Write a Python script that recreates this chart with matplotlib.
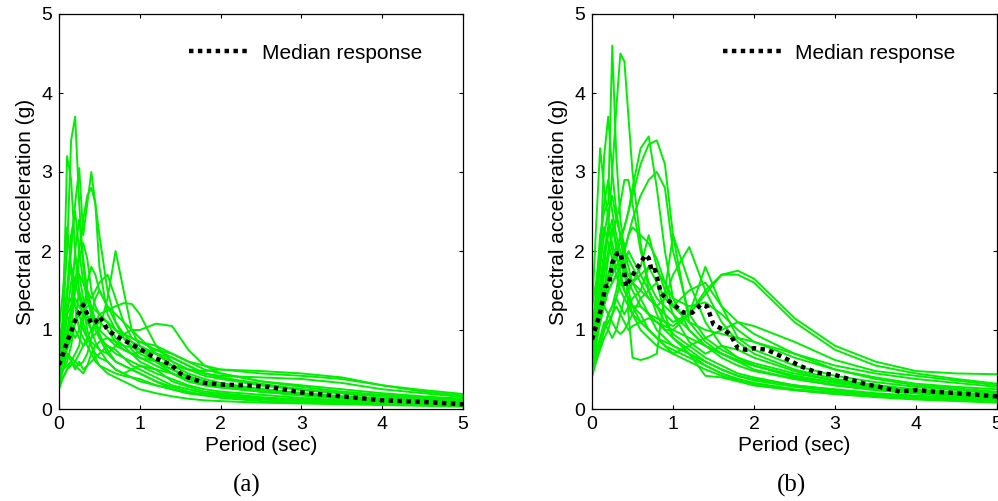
import numpy as np
import matplotlib
matplotlib.use("Agg")
import matplotlib.pyplot as plt

plt.rcParams['font.family'] = ['Liberation Sans', 'DejaVu Sans']

# periods (sec) at which the spectra were read
periods = [0, 0.05, 0.1, 0.15, 0.2, 0.25, 0.3, 0.35, 0.4, 0.45, 0.5, 0.6, 0.7,
           0.8, 0.9, 1.0, 1.2, 1.4, 1.6, 1.8, 2.0, 2.5, 3.0, 3.5, 4.0, 4.5, 5.0]

# panel (a) record spectra, Sa (g)
spectra_a = [
    [0.6, 1.2, 2.0, 3.4, 3.7, 2.6, 1.8, 1.4, 1.2, 1.0, 0.9, 0.8, 0.7, 0.65, 0.6, 0.55, 0.45, 0.38, 0.3, 0.25, 0.22, 0.18, 0.14, 0.11, 0.09, 0.07, 0.06],
    [0.5, 1.1, 3.2, 2.9, 2.0, 1.5, 1.1, 0.9, 0.8, 0.7, 0.65, 0.6, 0.5, 0.45, 0.4, 0.35, 0.3, 0.25, 0.2, 0.18, 0.16, 0.13, 0.1, 0.08, 0.07, 0.06, 0.05],
    [0.7, 1.0, 1.4, 2.0, 2.6, 3.05, 2.2, 2.6, 3.0, 2.6, 1.8, 1.2, 1.0, 0.9, 0.8, 0.7, 0.6, 0.5, 0.42, 0.35, 0.3, 0.25, 0.2, 0.16, 0.13, 0.11, 0.09],
    [0.4, 0.6, 0.9, 1.2, 1.6, 2.0, 2.4, 2.7, 2.8, 2.6, 2.2, 1.5, 1.1, 0.9, 0.75, 0.65, 0.55, 0.45, 0.38, 0.32, 0.28, 0.22, 0.18, 0.14, 0.12, 0.1, 0.08],
    [0.5, 0.7, 0.9, 1.1, 1.0, 0.9, 0.8, 0.85, 0.9, 0.95, 1.0, 1.4, 2.0, 1.5, 1.0, 0.8, 0.6, 0.5, 0.4, 0.35, 0.3, 0.22, 0.18, 0.15, 0.12, 0.1, 0.08],
    [0.8, 1.0, 1.3, 1.4, 1.3, 1.2, 1.25, 1.3, 1.3, 1.25, 1.2, 1.25, 1.3, 1.34, 1.33, 1.2, 0.8, 0.6, 0.5, 0.42, 0.38, 0.3, 0.25, 0.2, 0.16, 0.13, 0.1],
    [0.3, 0.5, 0.7, 0.6, 0.5, 0.6, 0.5, 0.55, 0.7, 0.8, 0.75, 0.7, 0.8, 0.95, 1.0, 1.0, 1.08, 1.05, 0.75, 0.55, 0.45, 0.35, 0.28, 0.22, 0.18, 0.15, 0.12],
    [1.0, 1.5, 2.3, 1.8, 1.3, 1.0, 0.9, 0.8, 0.7, 0.6, 0.55, 0.5, 0.45, 0.42, 0.4, 0.38, 0.3, 0.25, 0.2, 0.17, 0.15, 0.12, 0.1, 0.08, 0.06, 0.05, 0.04],
    [0.6, 0.9, 1.5, 2.2, 2.5, 2.0, 1.6, 1.4, 1.2, 1.1, 1.0, 0.9, 0.8, 0.75, 0.7, 0.65, 0.6, 0.55, 0.5, 0.48, 0.5, 0.48, 0.45, 0.4, 0.3, 0.22, 0.17],
    [0.45, 0.6, 0.8, 1.0, 1.5, 1.9, 2.1, 1.9, 1.5, 1.3, 1.2, 1.1, 1.0, 0.9, 0.85, 0.8, 0.7, 0.6, 0.5, 0.45, 0.42, 0.4, 0.38, 0.33, 0.25, 0.2, 0.15],
    [0.35, 0.5, 0.55, 0.6, 0.7, 0.8, 1.2, 1.6, 1.8, 1.7, 1.5, 1.3, 1.2, 1.1, 1.0, 0.9, 0.7, 0.55, 0.45, 0.38, 0.33, 0.25, 0.2, 0.16, 0.13, 0.1, 0.08],
    [0.25, 0.4, 0.5, 0.6, 0.55, 0.5, 0.45, 0.55, 0.6, 0.65, 0.7, 0.8, 0.75, 0.65, 0.55, 0.5, 0.4, 0.3, 0.25, 0.2, 0.18, 0.14, 0.11, 0.09, 0.07, 0.06, 0.05],
    [0.6, 0.8, 1.0, 1.2, 1.5, 1.7, 1.6, 1.5, 1.4, 1.5, 1.6, 1.7, 1.4, 1.1, 0.9, 0.85, 0.75, 0.65, 0.55, 0.45, 0.4, 0.32, 0.25, 0.2, 0.16, 0.13, 0.11],
    [0.5, 0.6, 0.7, 0.65, 0.6, 0.55, 0.6, 0.7, 0.9, 1.1, 1.2, 1.1, 0.9, 0.8, 0.7, 0.6, 0.5, 0.45, 0.35, 0.3, 0.28, 0.22, 0.17, 0.13, 0.1, 0.08, 0.07],
    [0.4, 0.7, 1.2, 1.6, 1.9, 1.7, 1.4, 1.2, 1.0, 0.85, 0.75, 0.6, 0.5, 0.45, 0.5, 0.55, 0.5, 0.35, 0.28, 0.22, 0.2, 0.15, 0.12, 0.1, 0.08, 0.06, 0.05],
    [0.7, 1.0, 1.2, 1.3, 1.4, 1.3, 1.2, 1.1, 1.0, 1.05, 1.1, 1.0, 0.85, 0.75, 0.7, 0.72, 0.75, 0.7, 0.6, 0.5, 0.45, 0.35, 0.3, 0.25, 0.2, 0.16, 0.13],
    [0.5, 0.7, 0.9, 1.3, 2.0, 2.4, 1.9, 1.5, 1.3, 1.1, 0.95, 0.75, 0.6, 0.55, 0.5, 0.45, 0.35, 0.25, 0.2, 0.18, 0.16, 0.13, 0.1, 0.08, 0.07, 0.06, 0.05],
    [0.3, 0.4, 0.5, 0.55, 0.6, 0.7, 0.8, 0.9, 1.0, 1.1, 1.15, 1.1, 1.0, 0.95, 0.9, 0.85, 0.8, 0.7, 0.6, 0.55, 0.5, 0.45, 0.42, 0.38, 0.3, 0.24, 0.19],
    [0.55, 0.8, 1.2, 1.0, 0.9, 1.0, 1.2, 1.4, 1.3, 1.1, 0.9, 0.7, 0.6, 0.55, 0.5, 0.45, 0.35, 0.28, 0.22, 0.18, 0.14, 0.1, 0.08, 0.07, 0.06, 0.05, 0.04],
    [0.9, 1.1, 1.5, 1.8, 1.6, 1.4, 1.3, 1.1, 1.2, 1.4, 1.5, 1.3, 1.1, 0.95, 0.85, 0.75, 0.6, 0.45, 0.35, 0.3, 0.27, 0.22, 0.18, 0.14, 0.11, 0.09, 0.07],
    [0.45, 0.6, 0.75, 0.9, 1.1, 1.2, 1.0, 0.9, 0.85, 0.8, 0.85, 0.9, 0.85, 0.8, 0.78, 0.75, 0.7, 0.65, 0.55, 0.45, 0.4, 0.3, 0.24, 0.2, 0.16, 0.13, 0.1],
    [0.35, 0.5, 0.6, 0.8, 1.1, 1.5, 1.3, 1.0, 0.8, 0.65, 0.55, 0.45, 0.4, 0.35, 0.3, 0.25, 0.2, 0.16, 0.13, 0.11, 0.1, 0.08, 0.07, 0.06, 0.05, 0.04, 0.03],
]

# panel (b) record spectra, Sa (g)
spectra_b = [
    [0.9, 1.5, 2.2, 2.5, 2.6, 4.6, 3.2, 2.4, 2.0, 1.8, 1.6, 1.4, 1.2, 1.0, 0.9, 0.8, 0.7, 0.6, 0.5, 0.42, 0.38, 0.3, 0.25, 0.2, 0.17, 0.14, 0.12],
    [0.7, 1.0, 1.4, 1.8, 2.3, 3.0, 3.8, 4.5, 4.4, 3.7, 3.0, 2.1, 1.5, 1.2, 1.0, 0.9, 0.75, 0.6, 0.5, 0.42, 0.36, 0.28, 0.22, 0.18, 0.15, 0.13, 0.11],
    [0.6, 0.9, 1.2, 1.5, 1.6, 1.8, 2.0, 2.2, 2.3, 2.5, 2.8, 3.3, 3.45, 2.8, 2.0, 1.4, 1.0, 0.8, 0.7, 0.6, 0.5, 0.38, 0.3, 0.24, 0.2, 0.16, 0.13],
    [0.8, 1.0, 1.3, 1.5, 1.7, 1.9, 2.0, 2.1, 2.3, 2.5, 2.7, 3.1, 3.35, 3.4, 3.1, 2.2, 1.1, 0.85, 0.7, 0.6, 0.55, 0.42, 0.33, 0.27, 0.22, 0.18, 0.15],
    [0.5, 0.8, 1.2, 1.4, 1.5, 1.6, 1.7, 1.8, 2.0, 2.2, 2.4, 2.7, 2.9, 3.0, 2.8, 2.0, 1.2, 0.9, 0.75, 0.65, 0.58, 0.45, 0.36, 0.3, 0.25, 0.21, 0.18],
    [1.2, 2.3, 3.3, 2.8, 2.4, 2.0, 1.8, 1.7, 1.5, 1.4, 1.3, 1.2, 1.0, 0.9, 0.85, 0.8, 0.7, 0.55, 0.45, 0.38, 0.33, 0.25, 0.2, 0.17, 0.14, 0.12, 0.1],
    [0.9, 1.3, 1.8, 3.2, 3.7, 3.0, 2.5, 2.2, 1.8, 1.5, 1.3, 1.1, 1.0, 0.9, 0.8, 0.7, 0.6, 0.5, 0.42, 0.36, 0.3, 0.24, 0.2, 0.17, 0.15, 0.13, 0.11],
    [0.6, 0.9, 1.3, 1.7, 2.0, 2.2, 2.4, 2.6, 2.9, 2.9, 2.6, 2.0, 1.6, 1.4, 1.3, 1.2, 1.0, 0.8, 0.65, 0.55, 0.48, 0.38, 0.3, 0.25, 0.2, 0.17, 0.14],
    [0.5, 0.6, 0.8, 1.0, 1.2, 1.3, 1.5, 1.8, 2.1, 1.2, 0.65, 0.62, 0.65, 0.7, 1.5, 2.2, 1.6, 1.1, 0.8, 0.65, 0.55, 0.4, 0.3, 0.24, 0.2, 0.16, 0.13],
    [0.4, 0.6, 0.8, 1.0, 1.2, 1.3, 1.4, 1.3, 1.2, 1.3, 1.4, 1.5, 1.4, 1.3, 1.4, 1.7, 2.05, 1.5, 1.1, 0.85, 0.7, 0.5, 0.38, 0.3, 0.24, 0.2, 0.17],
    [0.7, 0.9, 1.1, 1.3, 1.5, 1.6, 1.7, 1.6, 1.5, 1.4, 1.3, 1.3, 1.2, 1.15, 1.1, 1.05, 1.2, 1.45, 1.7, 1.75, 1.65, 1.15, 0.8, 0.6, 0.48, 0.45, 0.44],
    [0.8, 1.0, 1.2, 1.4, 1.6, 1.7, 1.8, 1.9, 1.8, 1.6, 1.5, 1.3, 1.2, 1.1, 1.0, 1.0, 1.2, 1.5, 1.7, 1.7, 1.6, 1.1, 0.75, 0.55, 0.45, 0.38, 0.32],
    [1.0, 1.4, 1.8, 2.2, 2.5, 2.7, 2.4, 2.2, 2.0, 1.9, 1.8, 1.6, 1.4, 1.3, 1.2, 1.1, 1.2, 1.8, 1.3, 0.9, 0.75, 0.55, 0.42, 0.34, 0.28, 0.24, 0.2],
    [0.6, 0.9, 1.1, 1.3, 1.2, 1.1, 1.0, 0.95, 1.0, 1.1, 1.2, 1.4, 1.5, 1.6, 1.4, 1.3, 1.5, 1.6, 1.3, 1.1, 0.95, 0.7, 0.5, 0.38, 0.3, 0.26, 0.22],
    [0.9, 1.3, 2.0, 2.6, 2.9, 2.5, 2.2, 2.0, 1.8, 1.7, 1.6, 1.5, 1.8, 1.6, 1.2, 0.9, 0.7, 0.42, 0.4, 0.35, 0.3, 0.24, 0.19, 0.16, 0.13, 0.11, 0.09],
    [0.5, 0.7, 0.9, 1.1, 1.0, 0.9, 1.0, 1.2, 1.4, 1.5, 1.6, 1.7, 1.8, 1.75, 1.6, 1.4, 1.3, 1.35, 1.2, 1.0, 0.85, 0.65, 0.5, 0.4, 0.32, 0.28, 0.25],
    [1.3, 1.6, 2.0, 2.3, 2.1, 1.9, 1.7, 1.5, 1.4, 1.3, 1.2, 1.1, 1.0, 0.9, 0.8, 0.75, 0.65, 0.55, 0.45, 0.38, 0.32, 0.24, 0.19, 0.15, 0.12, 0.1, 0.08],
    [0.7, 1.1, 1.6, 2.0, 2.3, 2.1, 1.9, 1.8, 2.0, 2.2, 2.3, 2.2, 2.1, 1.9, 1.6, 1.3, 1.1, 1.0, 0.95, 0.9, 0.85, 0.7, 0.55, 0.45, 0.38, 0.33, 0.28],
    [0.45, 0.6, 0.75, 0.9, 1.0, 1.2, 1.3, 1.2, 1.1, 1.0, 1.05, 1.1, 1.15, 1.1, 1.05, 1.0, 0.9, 0.8, 0.7, 0.62, 0.55, 0.42, 0.33, 0.27, 0.22, 0.19, 0.16],
    [0.6, 0.8, 1.1, 1.5, 1.9, 2.3, 2.1, 1.9, 1.7, 1.5, 1.6, 1.8, 2.2, 1.8, 1.5, 1.2, 0.85, 0.7, 0.8, 0.75, 0.65, 0.48, 0.35, 0.28, 0.23, 0.2, 0.17],
    [0.8, 1.1, 1.5, 1.9, 2.2, 2.4, 2.0, 1.7, 1.5, 1.4, 1.2, 1.0, 0.9, 0.8, 0.75, 0.7, 0.8, 0.9, 1.0, 1.1, 1.05, 0.85, 0.62, 0.48, 0.42, 0.36, 0.3],
    [0.5, 0.7, 0.9, 1.0, 1.1, 1.2, 1.4, 1.6, 1.8, 2.0, 1.9, 1.7, 1.5, 1.3, 1.1, 0.95, 0.8, 0.65, 0.55, 0.45, 0.4, 0.3, 0.24, 0.19, 0.16, 0.13, 0.11],
]

# median spectra
med_T_a = [0.0, 0.05, 0.1, 0.15, 0.2, 0.25, 0.3, 0.35, 0.4, 0.45, 0.5, 0.55, 0.6, 0.7, 0.8, 0.9, 1.0,
           1.1, 1.2, 1.3, 1.4, 1.5, 1.6, 1.8, 2.0, 2.3, 2.6, 3.0, 3.5, 4.0, 4.5, 5.0]
med_a = [0.56, 0.7, 0.85, 0.98, 1.12, 1.22, 1.32, 1.2, 1.08, 1.1, 1.17, 1.1, 1.0, 0.93, 0.87, 0.82, 0.76,
         0.7, 0.64, 0.6, 0.55, 0.45, 0.4, 0.33, 0.31, 0.3, 0.28, 0.21, 0.16, 0.11, 0.09, 0.06]

med_T_b = [0.0, 0.1, 0.165, 0.21, 0.25, 0.31, 0.35, 0.39, 0.42, 0.47, 0.54, 0.6, 0.66, 0.7, 0.74, 0.78,
           0.85, 0.93, 1.01, 1.13, 1.24, 1.34, 1.42, 1.5, 1.63, 1.71, 1.8, 1.9, 2.0, 2.16, 2.37, 2.58,
           2.78, 3.0, 3.2, 3.4, 3.6, 3.8, 4.0, 4.23, 4.64, 5.0]
med_b = [0.88, 1.22, 1.55, 1.57, 1.85, 1.97, 1.98, 1.8, 1.55, 1.64, 1.76, 1.85, 1.95, 1.91, 1.74, 1.76,
         1.47, 1.38, 1.32, 1.22, 1.22, 1.32, 1.3, 1.07, 1.0, 0.94, 0.77, 0.75, 0.77, 0.75, 0.65, 0.54,
         0.46, 0.43, 0.37, 0.31, 0.27, 0.22, 0.24, 0.22, 0.19, 0.16]

fig = plt.figure(figsize=(9.98, 5.01), dpi=100)
ax_a = fig.add_axes([59 / 998, 92 / 501, 404 / 998, 395 / 501])
ax_b = fig.add_axes([592 / 998, 92 / 501, 405 / 998, 395 / 501])

panels = [(ax_a, spectra_a, med_T_a, med_a, "(a)", 247),
          (ax_b, spectra_b, med_T_b, med_b, "(b)", 791)]

for ax, spectra, mT, med, tag, xc in panels:
    for sa in spectra:
        ax.plot(periods, sa, color='#00ee00', lw=1.4)
    ax.plot(mT, med, color='k', lw=3.2, linestyle=(0, (1, 1)), label='Median response')
    ax.set_xlim(0, 5)
    ax.set_ylim(0, 5)
    ax.set_xticks(range(6))
    ax.set_yticks(range(6))
    ax.tick_params(direction='in', top=True, right=True, length=3, labelsize=14, pad=5)
    for s in ax.spines.values():
        s.set_linewidth(0.9)
    ax.set_xlabel('Period (sec)', fontsize=15, labelpad=2)
    ax.set_ylabel('Spectral acceleration (g)', fontsize=15, labelpad=4)
    ax.legend(loc='center right', bbox_to_anchor=(0.898, 0.901), frameon=False, fontsize=15,
              handlelength=3.0, handletextpad=0.5, borderpad=0, borderaxespad=0)
    fig.text(xc / 998, 1 - 485 / 501, tag, family='Liberation Serif', fontsize=18,
             ha='center', va='center')

fig.savefig('out.png', dpi=100)
